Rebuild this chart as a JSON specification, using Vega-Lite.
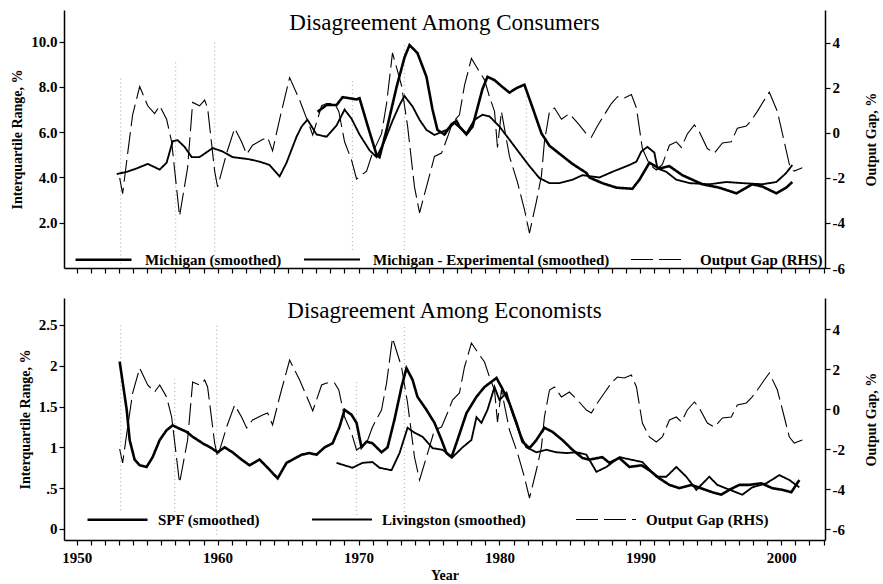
{
  "$schema": "https://vega.github.io/schema/vega-lite/v6.json",
  "padding": {"left": 10, "top": 10, "right": 1, "bottom": 0},
  "spacing": 22,
  "config": {
    "font": "Liberation Serif",
    "view": {"stroke": null},
    "axis": {"domainColor": "black", "domainWidth": 1.5, "tickColor": "black", "tickWidth": 1.2, "tickSize": 5, "labelFont": "Liberation Serif", "labelFontSize": 15, "labelFontWeight": "bold", "labelColor": "black", "titleFont": "Liberation Serif", "titleFontSize": 14, "titleFontWeight": "bold", "titleColor": "black", "grid": false, "labelOverlap": false},
    "legend": {"labelFont": "Liberation Serif", "labelFontSize": 15, "labelFontWeight": "bold", "labelColor": "black", "labelLimit": 0, "symbolType": "stroke", "symbolStrokeColor": "black", "padding": 0},
    "line": {"color": "black"}
  },
  "datasets": {
    "gap": [
      {"s":"Output Gap (RHS)","x":1953.05,"v":-2.0},{"s":"Output Gap (RHS)","x":1953.26,"v":-2.7},{"s":"Output Gap (RHS)","x":1953.62,"v":-0.9},{"s":"Output Gap (RHS)","x":1953.97,"v":0.8},{"s":"Output Gap (RHS)","x":1954.47,"v":2.05},{"s":"Output Gap (RHS)","x":1955.04,"v":1.2},{"s":"Output Gap (RHS)","x":1955.53,"v":0.85},{"s":"Output Gap (RHS)","x":1955.89,"v":1.2},{"s":"Output Gap (RHS)","x":1956.38,"v":0.6},{"s":"Output Gap (RHS)","x":1956.74,"v":-0.4},{"s":"Output Gap (RHS)","x":1957.30,"v":-3.7},{"s":"Output Gap (RHS)","x":1957.87,"v":-1.55},{"s":"Output Gap (RHS)","x":1958.23,"v":1.35},{"s":"Output Gap (RHS)","x":1958.72,"v":1.2},{"s":"Output Gap (RHS)","x":1959.08,"v":1.45},{"s":"Output Gap (RHS)","x":1959.29,"v":1.1},{"s":"Output Gap (RHS)","x":1959.79,"v":-1.7},{"s":"Output Gap (RHS)","x":1960.0,"v":-2.4},{"s":"Output Gap (RHS)","x":1960.64,"v":-0.9},{"s":"Output Gap (RHS)","x":1961.21,"v":0.2},{"s":"Output Gap (RHS)","x":1961.70,"v":-0.4},{"s":"Output Gap (RHS)","x":1962.06,"v":-0.95},{"s":"Output Gap (RHS)","x":1962.48,"v":-0.55},{"s":"Output Gap (RHS)","x":1963.19,"v":-0.3},{"s":"Output Gap (RHS)","x":1963.55,"v":-0.2},{"s":"Output Gap (RHS)","x":1963.90,"v":-0.8},{"s":"Output Gap (RHS)","x":1964.40,"v":0.6},{"s":"Output Gap (RHS)","x":1965.11,"v":2.45},{"s":"Output Gap (RHS)","x":1965.82,"v":1.45},{"s":"Output Gap (RHS)","x":1966.52,"v":0.3},{"s":"Output Gap (RHS)","x":1966.75,"v":-0.1},{"s":"Output Gap (RHS)","x":1967.38,"v":1.2},{"s":"Output Gap (RHS)","x":1967.73,"v":1.3},{"s":"Output Gap (RHS)","x":1968.30,"v":1.3},{"s":"Output Gap (RHS)","x":1968.6,"v":0.95},{"s":"Output Gap (RHS)","x":1969.01,"v":-0.4},{"s":"Output Gap (RHS)","x":1969.50,"v":-1.2},{"s":"Output Gap (RHS)","x":1969.86,"v":-2.05},{"s":"Output Gap (RHS)","x":1970.57,"v":-1.7},{"s":"Output Gap (RHS)","x":1970.99,"v":-0.9},{"s":"Output Gap (RHS)","x":1971.63,"v":-0.05},{"s":"Output Gap (RHS)","x":1971.99,"v":1.3},{"s":"Output Gap (RHS)","x":1972.41,"v":3.55},{"s":"Output Gap (RHS)","x":1973.05,"v":2.1},{"s":"Output Gap (RHS)","x":1973.48,"v":0.3},{"s":"Output Gap (RHS)","x":1973.97,"v":-2.4},{"s":"Output Gap (RHS)","x":1974.33,"v":-3.55},{"s":"Output Gap (RHS)","x":1974.82,"v":-2.4},{"s":"Output Gap (RHS)","x":1975.39,"v":-1.05},{"s":"Output Gap (RHS)","x":1975.89,"v":-0.9},{"s":"Output Gap (RHS)","x":1976.31,"v":-0.2},{"s":"Output Gap (RHS)","x":1976.67,"v":0.45},{"s":"Output Gap (RHS)","x":1977.16,"v":0.8},{"s":"Output Gap (RHS)","x":1977.52,"v":2.1},{"s":"Output Gap (RHS)","x":1978.01,"v":3.3},{"s":"Output Gap (RHS)","x":1978.44,"v":2.85},{"s":"Output Gap (RHS)","x":1978.94,"v":2.35},{"s":"Output Gap (RHS)","x":1979.29,"v":1.6},{"s":"Output Gap (RHS)","x":1979.65,"v":0.95},{"s":"Output Gap (RHS)","x":1979.86,"v":-0.65},{"s":"Output Gap (RHS)","x":1980.14,"v":0.95},{"s":"Output Gap (RHS)","x":1980.71,"v":-1.05},{"s":"Output Gap (RHS)","x":1981.28,"v":-2.2},{"s":"Output Gap (RHS)","x":1981.77,"v":-3.4},{"s":"Output Gap (RHS)","x":1982.13,"v":-4.45},{"s":"Output Gap (RHS)","x":1982.62,"v":-3.05},{"s":"Output Gap (RHS)","x":1982.98,"v":-1.9},{"s":"Output Gap (RHS)","x":1983.19,"v":-0.4},{"s":"Output Gap (RHS)","x":1983.55,"v":0.95},{"s":"Output Gap (RHS)","x":1983.90,"v":1.1},{"s":"Output Gap (RHS)","x":1984.40,"v":0.6},{"s":"Output Gap (RHS)","x":1984.96,"v":0.85},{"s":"Output Gap (RHS)","x":1985.53,"v":0.45},{"s":"Output Gap (RHS)","x":1986.17,"v":-0.05},{"s":"Output Gap (RHS)","x":1986.52,"v":-0.2},{"s":"Output Gap (RHS)","x":1986.95,"v":0.3},{"s":"Output Gap (RHS)","x":1987.59,"v":0.95},{"s":"Output Gap (RHS)","x":1987.94,"v":1.3},{"s":"Output Gap (RHS)","x":1988.37,"v":1.6},{"s":"Output Gap (RHS)","x":1988.87,"v":1.55},{"s":"Output Gap (RHS)","x":1989.36,"v":1.7},{"s":"Output Gap (RHS)","x":1989.72,"v":1.1},{"s":"Output Gap (RHS)","x":1990.14,"v":-0.7},{"s":"Output Gap (RHS)","x":1990.64,"v":-1.4},{"s":"Output Gap (RHS)","x":1991.13,"v":-1.65},{"s":"Output Gap (RHS)","x":1991.56,"v":-1.4},{"s":"Output Gap (RHS)","x":1992.06,"v":-0.55},{"s":"Output Gap (RHS)","x":1992.55,"v":-0.4},{"s":"Output Gap (RHS)","x":1992.91,"v":-0.65},{"s":"Output Gap (RHS)","x":1993.33,"v":-0.05},{"s":"Output Gap (RHS)","x":1993.83,"v":0.35},{"s":"Output Gap (RHS)","x":1994.18,"v":0.05},{"s":"Output Gap (RHS)","x":1994.75,"v":-0.7},{"s":"Output Gap (RHS)","x":1995.25,"v":-0.9},{"s":"Output Gap (RHS)","x":1995.82,"v":-0.45},{"s":"Output Gap (RHS)","x":1996.45,"v":-0.4},{"s":"Output Gap (RHS)","x":1996.88,"v":0.2},{"s":"Output Gap (RHS)","x":1997.52,"v":0.3},{"s":"Output Gap (RHS)","x":1997.87,"v":0.55},{"s":"Output Gap (RHS)","x":1998.30,"v":0.95},{"s":"Output Gap (RHS)","x":1998.79,"v":1.45},{"s":"Output Gap (RHS)","x":1999.15,"v":1.8},{"s":"Output Gap (RHS)","x":1999.72,"v":0.95},{"s":"Output Gap (RHS)","x":2000.21,"v":-0.4},{"s":"Output Gap (RHS)","x":2000.57,"v":-1.4},{"s":"Output Gap (RHS)","x":2000.92,"v":-1.7},{"s":"Output Gap (RHS)","x":2001.49,"v":-1.55}
    ],
    "consumers": [
      {"s":"Michigan - Experimental (smoothed)","x":1952.84,"v":4.15},{"s":"Michigan - Experimental (smoothed)","x":1953.55,"v":4.25},{"s":"Michigan - Experimental (smoothed)","x":1954.26,"v":4.4},{"s":"Michigan - Experimental (smoothed)","x":1955.04,"v":4.6},{"s":"Michigan - Experimental (smoothed)","x":1955.89,"v":4.35},{"s":"Michigan - Experimental (smoothed)","x":1956.38,"v":4.65},{"s":"Michigan - Experimental (smoothed)","x":1956.81,"v":5.6},{"s":"Michigan - Experimental (smoothed)","x":1957.16,"v":5.65},{"s":"Michigan - Experimental (smoothed)","x":1957.66,"v":5.35},{"s":"Michigan - Experimental (smoothed)","x":1958.16,"v":4.9},{"s":"Michigan - Experimental (smoothed)","x":1958.72,"v":4.9},{"s":"Michigan - Experimental (smoothed)","x":1959.65,"v":5.3},{"s":"Michigan - Experimental (smoothed)","x":1960.35,"v":5.15},{"s":"Michigan - Experimental (smoothed)","x":1961.06,"v":4.9},{"s":"Michigan - Experimental (smoothed)","x":1961.70,"v":4.85},{"s":"Michigan - Experimental (smoothed)","x":1962.27,"v":4.8},{"s":"Michigan - Experimental (smoothed)","x":1962.98,"v":4.7},{"s":"Michigan - Experimental (smoothed)","x":1963.69,"v":4.55},{"s":"Michigan - Experimental (smoothed)","x":1964.40,"v":4.05},{"s":"Michigan - Experimental (smoothed)","x":1964.89,"v":4.65},{"s":"Michigan - Experimental (smoothed)","x":1965.60,"v":5.8},{"s":"Michigan - Experimental (smoothed)","x":1965.96,"v":6.25},{"s":"Michigan - Experimental (smoothed)","x":1966.38,"v":6.55},{"s":"Michigan - Experimental (smoothed)","x":1967.02,"v":5.9},{"s":"Michigan - Experimental (smoothed)","x":1967.73,"v":5.8},{"s":"Michigan - Experimental (smoothed)","x":1968.44,"v":6.3},{"s":"Michigan - Experimental (smoothed)","x":1969.01,"v":7.0},{"s":"Michigan - Experimental (smoothed)","x":1969.50,"v":6.6},{"s":"Michigan - Experimental (smoothed)","x":1970.07,"v":5.9},{"s":"Michigan - Experimental (smoothed)","x":1970.78,"v":5.2},{"s":"Michigan - Experimental (smoothed)","x":1971.28,"v":4.9},{"s":"Michigan - Experimental (smoothed)","x":1971.84,"v":5.6},{"s":"Michigan - Experimental (smoothed)","x":1972.41,"v":6.5},{"s":"Michigan - Experimental (smoothed)","x":1972.91,"v":7.2},{"s":"Michigan - Experimental (smoothed)","x":1973.26,"v":7.6},{"s":"Michigan - Experimental (smoothed)","x":1973.83,"v":7.14},{"s":"Michigan - Experimental (smoothed)","x":1974.33,"v":6.55},{"s":"Michigan - Experimental (smoothed)","x":1974.82,"v":6.1},{"s":"Michigan - Experimental (smoothed)","x":1975.39,"v":5.88},{"s":"Michigan - Experimental (smoothed)","x":1976.24,"v":6.1},{"s":"Michigan - Experimental (smoothed)","x":1976.81,"v":6.4},{"s":"Michigan - Experimental (smoothed)","x":1977.66,"v":5.95},{"s":"Michigan - Experimental (smoothed)","x":1978.23,"v":6.55},{"s":"Michigan - Experimental (smoothed)","x":1978.79,"v":6.77},{"s":"Michigan - Experimental (smoothed)","x":1979.29,"v":6.7},{"s":"Michigan - Experimental (smoothed)","x":1980.0,"v":6.25},{"s":"Michigan - Experimental (smoothed)","x":1980.71,"v":5.67},{"s":"Michigan - Experimental (smoothed)","x":1981.42,"v":5.08},{"s":"Michigan - Experimental (smoothed)","x":1982.13,"v":4.5},{"s":"Michigan - Experimental (smoothed)","x":1982.84,"v":3.97},{"s":"Michigan - Experimental (smoothed)","x":1983.55,"v":3.75},{"s":"Michigan - Experimental (smoothed)","x":1984.26,"v":3.75},{"s":"Michigan - Experimental (smoothed)","x":1985.18,"v":3.9},{"s":"Michigan - Experimental (smoothed)","x":1985.89,"v":4.1},{"s":"Michigan - Experimental (smoothed)","x":1987.09,"v":4.0},{"s":"Michigan - Experimental (smoothed)","x":1988.01,"v":4.25},{"s":"Michigan - Experimental (smoothed)","x":1989.22,"v":4.55},{"s":"Michigan - Experimental (smoothed)","x":1989.72,"v":4.7},{"s":"Michigan - Experimental (smoothed)","x":1990.07,"v":5.15},{"s":"Michigan - Experimental (smoothed)","x":1990.50,"v":5.35},{"s":"Michigan - Experimental (smoothed)","x":1990.99,"v":5.1},{"s":"Michigan - Experimental (smoothed)","x":1991.21,"v":4.4},{"s":"Michigan - Experimental (smoothed)","x":1991.84,"v":4.25},{"s":"Michigan - Experimental (smoothed)","x":1992.55,"v":3.9},{"s":"Michigan - Experimental (smoothed)","x":1993.48,"v":3.75},{"s":"Michigan - Experimental (smoothed)","x":1994.89,"v":3.7},{"s":"Michigan - Experimental (smoothed)","x":1996.10,"v":3.8},{"s":"Michigan - Experimental (smoothed)","x":1997.23,"v":3.75},{"s":"Michigan - Experimental (smoothed)","x":1998.65,"v":3.7},{"s":"Michigan - Experimental (smoothed)","x":1999.65,"v":3.8},{"s":"Michigan - Experimental (smoothed)","x":2000.35,"v":4.2},{"s":"Michigan - Experimental (smoothed)","x":2000.78,"v":4.55},
      {"s":"Michigan (smoothed)","x":1967.09,"v":6.9},{"s":"Michigan (smoothed)","x":1967.73,"v":7.2},{"s":"Michigan (smoothed)","x":1968.44,"v":7.2},{"s":"Michigan (smoothed)","x":1968.87,"v":7.55},{"s":"Michigan (smoothed)","x":1969.86,"v":7.45},{"s":"Michigan (smoothed)","x":1970.07,"v":7.5},{"s":"Michigan (smoothed)","x":1970.64,"v":6.3},{"s":"Michigan (smoothed)","x":1971.28,"v":5.0},{"s":"Michigan (smoothed)","x":1971.49,"v":4.9},{"s":"Michigan (smoothed)","x":1971.99,"v":6.1},{"s":"Michigan (smoothed)","x":1972.70,"v":8.0},{"s":"Michigan (smoothed)","x":1973.26,"v":9.3},{"s":"Michigan (smoothed)","x":1973.62,"v":9.85},{"s":"Michigan (smoothed)","x":1974.18,"v":9.5},{"s":"Michigan (smoothed)","x":1974.82,"v":8.45},{"s":"Michigan (smoothed)","x":1975.25,"v":7.0},{"s":"Michigan (smoothed)","x":1975.60,"v":6.1},{"s":"Michigan (smoothed)","x":1976.10,"v":5.9},{"s":"Michigan (smoothed)","x":1976.60,"v":6.35},{"s":"Michigan (smoothed)","x":1976.95,"v":6.5},{"s":"Michigan (smoothed)","x":1977.16,"v":6.25},{"s":"Michigan (smoothed)","x":1977.66,"v":5.9},{"s":"Michigan (smoothed)","x":1978.09,"v":6.25},{"s":"Michigan (smoothed)","x":1978.79,"v":7.9},{"s":"Michigan (smoothed)","x":1979.15,"v":8.45},{"s":"Michigan (smoothed)","x":1979.65,"v":8.3},{"s":"Michigan (smoothed)","x":1980.21,"v":8.0},{"s":"Michigan (smoothed)","x":1980.71,"v":7.75},{"s":"Michigan (smoothed)","x":1981.21,"v":7.95},{"s":"Michigan (smoothed)","x":1981.77,"v":8.1},{"s":"Michigan (smoothed)","x":1982.34,"v":7.1},{"s":"Michigan (smoothed)","x":1982.98,"v":5.95},{"s":"Michigan (smoothed)","x":1983.55,"v":5.4},{"s":"Michigan (smoothed)","x":1984.26,"v":5.05},{"s":"Michigan (smoothed)","x":1985.18,"v":4.6},{"s":"Michigan (smoothed)","x":1986.17,"v":4.2},{"s":"Michigan (smoothed)","x":1986.38,"v":4.0},{"s":"Michigan (smoothed)","x":1987.30,"v":3.75},{"s":"Michigan (smoothed)","x":1988.30,"v":3.55},{"s":"Michigan (smoothed)","x":1989.43,"v":3.5},{"s":"Michigan (smoothed)","x":1989.93,"v":3.9},{"s":"Michigan (smoothed)","x":1990.64,"v":4.65},{"s":"Michigan (smoothed)","x":1991.35,"v":4.4},{"s":"Michigan (smoothed)","x":1992.06,"v":4.5},{"s":"Michigan (smoothed)","x":1992.98,"v":4.1},{"s":"Michigan (smoothed)","x":1994.40,"v":3.7},{"s":"Michigan (smoothed)","x":1995.60,"v":3.55},{"s":"Michigan (smoothed)","x":1996.81,"v":3.3},{"s":"Michigan (smoothed)","x":1997.94,"v":3.7},{"s":"Michigan (smoothed)","x":1998.65,"v":3.6},{"s":"Michigan (smoothed)","x":1999.65,"v":3.3},{"s":"Michigan (smoothed)","x":2000.35,"v":3.55},{"s":"Michigan (smoothed)","x":2000.78,"v":3.8}
    ],
    "economists": [
      {"s":"SPF (smoothed)","x":1953.05,"v":2.05},{"s":"SPF (smoothed)","x":1953.55,"v":1.46},{"s":"SPF (smoothed)","x":1953.76,"v":1.09},{"s":"SPF (smoothed)","x":1954.11,"v":0.85},{"s":"SPF (smoothed)","x":1954.47,"v":0.78},{"s":"SPF (smoothed)","x":1954.96,"v":0.76},{"s":"SPF (smoothed)","x":1955.39,"v":0.88},{"s":"SPF (smoothed)","x":1955.89,"v":1.09},{"s":"SPF (smoothed)","x":1956.38,"v":1.21},{"s":"SPF (smoothed)","x":1956.81,"v":1.27},{"s":"SPF (smoothed)","x":1957.16,"v":1.24},{"s":"SPF (smoothed)","x":1957.80,"v":1.19},{"s":"SPF (smoothed)","x":1958.23,"v":1.13},{"s":"SPF (smoothed)","x":1958.94,"v":1.05},{"s":"SPF (smoothed)","x":1959.57,"v":0.99},{"s":"SPF (smoothed)","x":1960.0,"v":0.94},{"s":"SPF (smoothed)","x":1960.5,"v":1.0},{"s":"SPF (smoothed)","x":1961.06,"v":0.94},{"s":"SPF (smoothed)","x":1961.70,"v":0.85},{"s":"SPF (smoothed)","x":1962.27,"v":0.78},{"s":"SPF (smoothed)","x":1962.98,"v":0.85},{"s":"SPF (smoothed)","x":1963.55,"v":0.75},{"s":"SPF (smoothed)","x":1964.26,"v":0.62},{"s":"SPF (smoothed)","x":1964.89,"v":0.81},{"s":"SPF (smoothed)","x":1965.32,"v":0.85},{"s":"SPF (smoothed)","x":1965.96,"v":0.91},{"s":"SPF (smoothed)","x":1966.52,"v":0.93},{"s":"SPF (smoothed)","x":1967.02,"v":0.91},{"s":"SPF (smoothed)","x":1967.59,"v":1.0},{"s":"SPF (smoothed)","x":1968.16,"v":1.05},{"s":"SPF (smoothed)","x":1968.65,"v":1.25},{"s":"SPF (smoothed)","x":1969.01,"v":1.46},{"s":"SPF (smoothed)","x":1969.50,"v":1.4},{"s":"SPF (smoothed)","x":1969.86,"v":1.3},{"s":"SPF (smoothed)","x":1970.21,"v":1.0},{"s":"SPF (smoothed)","x":1970.57,"v":1.07},{"s":"SPF (smoothed)","x":1970.99,"v":1.05},{"s":"SPF (smoothed)","x":1971.63,"v":0.94},{"s":"SPF (smoothed)","x":1972.06,"v":1.0},{"s":"SPF (smoothed)","x":1972.55,"v":1.34},{"s":"SPF (smoothed)","x":1973.05,"v":1.74},{"s":"SPF (smoothed)","x":1973.40,"v":1.97},{"s":"SPF (smoothed)","x":1973.83,"v":1.83},{"s":"SPF (smoothed)","x":1974.18,"v":1.62},{"s":"SPF (smoothed)","x":1974.82,"v":1.46},{"s":"SPF (smoothed)","x":1975.39,"v":1.3},{"s":"SPF (smoothed)","x":1975.89,"v":1.09},{"s":"SPF (smoothed)","x":1976.24,"v":0.93},{"s":"SPF (smoothed)","x":1976.60,"v":0.88},{"s":"SPF (smoothed)","x":1977.02,"v":1.09},{"s":"SPF (smoothed)","x":1977.66,"v":1.42},{"s":"SPF (smoothed)","x":1978.37,"v":1.62},{"s":"SPF (smoothed)","x":1978.94,"v":1.74},{"s":"SPF (smoothed)","x":1979.79,"v":1.85},{"s":"SPF (smoothed)","x":1980.14,"v":1.74},{"s":"SPF (smoothed)","x":1980.71,"v":1.54},{"s":"SPF (smoothed)","x":1981.21,"v":1.3},{"s":"SPF (smoothed)","x":1981.63,"v":1.07},{"s":"SPF (smoothed)","x":1982.13,"v":0.99},{"s":"SPF (smoothed)","x":1982.62,"v":1.09},{"s":"SPF (smoothed)","x":1983.19,"v":1.24},{"s":"SPF (smoothed)","x":1983.76,"v":1.19},{"s":"SPF (smoothed)","x":1984.47,"v":1.09},{"s":"SPF (smoothed)","x":1985.18,"v":0.97},{"s":"SPF (smoothed)","x":1985.89,"v":0.87},{"s":"SPF (smoothed)","x":1986.38,"v":0.85},{"s":"SPF (smoothed)","x":1987.30,"v":0.88},{"s":"SPF (smoothed)","x":1987.80,"v":0.81},{"s":"SPF (smoothed)","x":1988.51,"v":0.87},{"s":"SPF (smoothed)","x":1989.22,"v":0.76},{"s":"SPF (smoothed)","x":1990.07,"v":0.78},{"s":"SPF (smoothed)","x":1990.64,"v":0.72},{"s":"SPF (smoothed)","x":1991.35,"v":0.62},{"s":"SPF (smoothed)","x":1992.06,"v":0.54},{"s":"SPF (smoothed)","x":1992.77,"v":0.5},{"s":"SPF (smoothed)","x":1993.62,"v":0.54},{"s":"SPF (smoothed)","x":1995.11,"v":0.45},{"s":"SPF (smoothed)","x":1995.74,"v":0.42},{"s":"SPF (smoothed)","x":1996.31,"v":0.48},{"s":"SPF (smoothed)","x":1997.02,"v":0.54},{"s":"SPF (smoothed)","x":1997.73,"v":0.54},{"s":"SPF (smoothed)","x":1998.58,"v":0.56},{"s":"SPF (smoothed)","x":1999.36,"v":0.5},{"s":"SPF (smoothed)","x":2000.07,"v":0.48},{"s":"SPF (smoothed)","x":2000.71,"v":0.45},{"s":"SPF (smoothed)","x":2001.28,"v":0.6},
      {"s":"Livingston (smoothed)","x":1968.44,"v":0.81},{"s":"Livingston (smoothed)","x":1969.57,"v":0.75},{"s":"Livingston (smoothed)","x":1970.28,"v":0.81},{"s":"Livingston (smoothed)","x":1970.99,"v":0.82},{"s":"Livingston (smoothed)","x":1971.49,"v":0.75},{"s":"Livingston (smoothed)","x":1972.34,"v":0.72},{"s":"Livingston (smoothed)","x":1972.91,"v":0.93},{"s":"Livingston (smoothed)","x":1973.48,"v":1.24},{"s":"Livingston (smoothed)","x":1973.97,"v":1.18},{"s":"Livingston (smoothed)","x":1974.54,"v":1.13},{"s":"Livingston (smoothed)","x":1975.25,"v":0.99},{"s":"Livingston (smoothed)","x":1975.96,"v":0.97},{"s":"Livingston (smoothed)","x":1976.67,"v":0.88},{"s":"Livingston (smoothed)","x":1977.38,"v":1.0},{"s":"Livingston (smoothed)","x":1978.01,"v":1.09},{"s":"Livingston (smoothed)","x":1978.37,"v":1.37},{"s":"Livingston (smoothed)","x":1978.72,"v":1.3},{"s":"Livingston (smoothed)","x":1979.15,"v":1.46},{"s":"Livingston (smoothed)","x":1979.65,"v":1.74},{"s":"Livingston (smoothed)","x":1980.0,"v":1.58},{"s":"Livingston (smoothed)","x":1980.50,"v":1.67},{"s":"Livingston (smoothed)","x":1980.92,"v":1.42},{"s":"Livingston (smoothed)","x":1981.42,"v":1.18},{"s":"Livingston (smoothed)","x":1981.91,"v":1.0},{"s":"Livingston (smoothed)","x":1982.62,"v":0.94},{"s":"Livingston (smoothed)","x":1983.33,"v":0.97},{"s":"Livingston (smoothed)","x":1984.04,"v":0.94},{"s":"Livingston (smoothed)","x":1984.75,"v":0.93},{"s":"Livingston (smoothed)","x":1985.46,"v":0.94},{"s":"Livingston (smoothed)","x":1986.17,"v":0.91},{"s":"Livingston (smoothed)","x":1986.88,"v":0.7},{"s":"Livingston (smoothed)","x":1987.59,"v":0.76},{"s":"Livingston (smoothed)","x":1988.51,"v":0.88},{"s":"Livingston (smoothed)","x":1990.14,"v":0.82},{"s":"Livingston (smoothed)","x":1991.13,"v":0.64},{"s":"Livingston (smoothed)","x":1991.84,"v":0.64},{"s":"Livingston (smoothed)","x":1992.55,"v":0.76},{"s":"Livingston (smoothed)","x":1993.26,"v":0.64},{"s":"Livingston (smoothed)","x":1993.97,"v":0.48},{"s":"Livingston (smoothed)","x":1994.89,"v":0.64},{"s":"Livingston (smoothed)","x":1995.46,"v":0.54},{"s":"Livingston (smoothed)","x":1997.23,"v":0.42},{"s":"Livingston (smoothed)","x":1997.94,"v":0.51},{"s":"Livingston (smoothed)","x":1998.94,"v":0.56},{"s":"Livingston (smoothed)","x":1999.86,"v":0.66},{"s":"Livingston (smoothed)","x":2000.57,"v":0.6},{"s":"Livingston (smoothed)","x":2001.28,"v":0.51}
    ],
    "rec_top": [
      {"x":1953.12,"v":0.2,"v2":8.5},{"x":1957.02,"v":0.2,"v2":9.2},{"x":1959.79,"v":0.2,"v2":10.0},{"x":1969.57,"v":0.8,"v2":8.4},{"x":1973.26,"v":0.8,"v2":9.9},{"x":1981.91,"v":1.7,"v2":7.6}
    ],
    "rec_bot": [
      {"x":1953.12,"v":0.23,"v2":2.5},{"x":1956.95,"v":0.11,"v2":1.83},{"x":1959.93,"v":-0.07,"v2":2.5},{"x":1969.86,"v":0.17,"v2":1.83},{"x":1973.26,"v":0.11,"v2":2.5}
    ]
  },
  "vconcat": [
    {
      "width": 761,
      "height": 258,
      "title": {"text": "Disagreement Among Consumers", "font": "Liberation Serif", "fontSize": 23, "fontWeight": "normal", "color": "black", "anchor": "middle", "frame": "group", "offset": -25},
      "encoding": {
        "x": {"field": "x", "type": "quantitative", "scale": {"domain": [1949.1, 2003.1], "nice": false, "zero": false}, "axis": {"title": null, "labels": false, "values": [1950,1951,1952,1953,1954,1955,1956,1957,1958,1959,1960,1961,1962,1963,1964,1965,1966,1967,1968,1969,1970,1971,1972,1973,1974,1975,1976,1977,1978,1979,1980,1981,1982,1983,1984,1985,1986,1987,1988,1989,1990,1991,1992,1993,1994,1995,1996,1997,1998,1999,2000,2001,2002,2003]}},
        "strokeDash": {"field": "s", "type": "nominal", "scale": {"domain": ["Michigan (smoothed)", "Michigan - Experimental (smoothed)", "Output Gap (RHS)"], "range": [[1, 0], [1, 0], [22, 6]]}, "legend": {"title": null, "orient": "none", "legendX": 10, "legendY": 220, "direction": "horizontal", "symbolSize": 3136, "labelOffset": 12, "columnPadding": 18}},
        "strokeWidth": {"field": "s", "type": "nominal", "scale": {"domain": ["Michigan (smoothed)", "Michigan - Experimental (smoothed)", "Output Gap (RHS)"], "range": [2.6, 1.1, 2.2]}, "legend": {"title": null, "orient": "none", "legendX": 10, "legendY": 220, "direction": "horizontal", "symbolSize": 3136, "labelOffset": 12, "columnPadding": 18}}
      },
      "layer": [
        {
          "encoding": {"y": {"field": "v", "type": "quantitative", "scale": {"domain": [0, 11.4], "nice": false, "zero": false}, "axis": {"title": "Interquartile Range, %", "values": [2, 4, 6, 8, 10], "format": ".1f", "titlePadding": 6}}},
          "layer": [
            {"data": {"name": "rec_top"}, "mark": {"type": "rule", "color": "#999999", "opacity": 0.7}, "encoding": {"y2": {"field": "v2"}, "strokeDash": {"value": [1, 3]}, "strokeWidth": {"value": 1.2}}},
            {"data": {"name": "consumers"}, "mark": {"type": "line", "color": "black"}}
          ]
        },
        {
          "data": {"name": "gap"},
          "mark": {"type": "line", "color": "black"},
          "encoding": {"y": {"field": "v", "type": "quantitative", "scale": {"domain": [-6, 5.45], "nice": false, "zero": false}, "axis": {"orient": "right", "title": "Output Gap, %", "titleAngle": 270, "values": [-6, -4, -2, 0, 2, 4], "labelExpr": "'' + datum.value", "titlePadding": 34}}}
        }
      ],
      "resolve": {"scale": {"y": "independent"}}
    },
    {
      "width": 761,
      "height": 242,
      "title": {"text": "Disagreement Among Economists", "font": "Liberation Serif", "fontSize": 23, "fontWeight": "normal", "color": "black", "anchor": "middle", "frame": "group", "offset": -25},
      "encoding": {
        "x": {"field": "x", "type": "quantitative", "scale": {"domain": [1949.1, 2003.1], "nice": false, "zero": false}, "axis": {"title": "Year", "format": "d", "labelPadding": 5, "titlePadding": 3, "labelExpr": "datum.value % 10 == 0 ? datum.label : ''", "values": [1950,1951,1952,1953,1954,1955,1956,1957,1958,1959,1960,1961,1962,1963,1964,1965,1966,1967,1968,1969,1970,1971,1972,1973,1974,1975,1976,1977,1978,1979,1980,1981,1982,1983,1984,1985,1986,1987,1988,1989,1990,1991,1992,1993,1994,1995,1996,1997,1998,1999,2000,2001,2002,2003]}},
        "strokeDash": {"field": "s", "type": "nominal", "scale": {"domain": ["SPF (smoothed)", "Livingston (smoothed)", "Output Gap (RHS)"], "range": [[1, 0], [1, 0], [22, 6]]}, "legend": {"title": null, "orient": "none", "legendX": 22, "legendY": 190, "direction": "horizontal", "symbolSize": 3600, "labelOffset": 9, "columnPadding": 47}},
        "strokeWidth": {"field": "s", "type": "nominal", "scale": {"domain": ["SPF (smoothed)", "Livingston (smoothed)", "Output Gap (RHS)"], "range": [2.6, 1.1, 2.2]}, "legend": {"title": null, "orient": "none", "legendX": 22, "legendY": 190, "direction": "horizontal", "symbolSize": 3600, "labelOffset": 9, "columnPadding": 47}}
      },
      "layer": [
        {
          "encoding": {"y": {"field": "v", "type": "quantitative", "scale": {"domain": [-0.135, 2.83], "nice": false, "zero": false}, "axis": {"title": "Interquartile Range, %", "values": [0, 0.5, 1, 1.5, 2, 2.5], "labelExpr": "datum.value == 0.5 ? '.5' : '' + datum.value", "titlePadding": 6}}},
          "layer": [
            {"data": {"name": "rec_bot"}, "mark": {"type": "rule", "color": "#999999", "opacity": 0.7}, "encoding": {"y2": {"field": "v2"}, "strokeDash": {"value": [1, 3]}, "strokeWidth": {"value": 1.2}}},
            {"data": {"name": "economists"}, "mark": {"type": "line", "color": "black"}}
          ]
        },
        {
          "data": {"name": "gap"},
          "mark": {"type": "line", "color": "black"},
          "encoding": {"y": {"field": "v", "type": "quantitative", "scale": {"domain": [-6.55, 5.55], "nice": false, "zero": false}, "axis": {"orient": "right", "title": "Output Gap, %", "titleAngle": 270, "values": [-6, -4, -2, 0, 2, 4], "labelExpr": "'' + datum.value", "titlePadding": 34}}}
        }
      ],
      "resolve": {"scale": {"y": "independent"}}
    }
  ],
  "resolve": {"scale": {"strokeDash": "independent", "strokeWidth": "independent"}}
}
